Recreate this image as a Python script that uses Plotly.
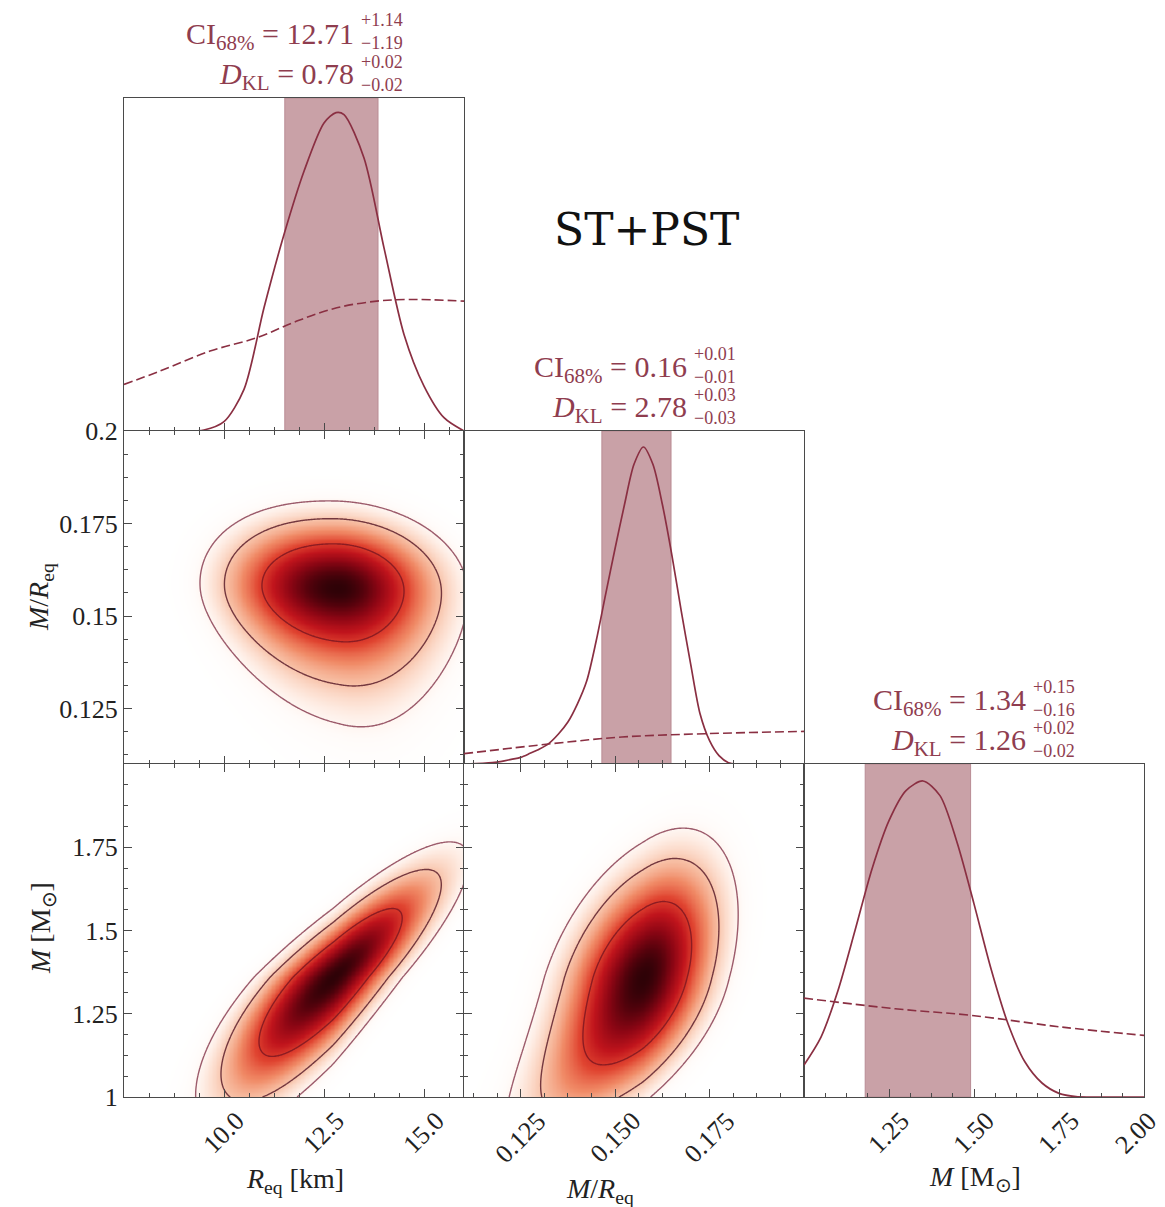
import numpy as np
import plotly.graph_objects as go

W, H = 1165, 1207

# ---------------------------------------------------------------- data
# axis ranges
R_RANGE = [7.5, 16.0]      # R_eq [km]
C_RANGE = [0.11, 0.20]     # M / R_eq
M_RANGE = [1.0, 2.0]       # M [M_sun]

# 1D posterior marginals (solid) and priors (dashed), peak-relative units
r_post_x = [9.0, 9.5, 10.0, 10.5, 11.0, 11.5, 12.0, 12.5, 12.8, 13.0, 13.5,
            14.0, 14.5, 15.0, 15.5, 16.0]
r_post_y = [0.0, 0.003, 0.028, 0.125, 0.37, 0.59, 0.78, 0.925, 0.956, 0.95, 0.82,
            0.55, 0.29, 0.135, 0.04, 0.0]
r_prior_x = [7.5, 8.4, 9.65, 10.82, 11.82, 12.82, 13.82, 14.65, 16.0]
r_prior_y = [0.14, 0.18, 0.24, 0.28, 0.33, 0.37, 0.39, 0.395, 0.39]

c_post_x = [0.11, 0.115, 0.1175, 0.12, 0.1225, 0.125, 0.1275, 0.13, 0.1325, 0.135,
            0.1375, 0.14, 0.1425, 0.145, 0.1475, 0.15, 0.1525, 0.155, 0.1575,
            0.16, 0.1625, 0.165, 0.1675, 0.17, 0.1725, 0.175, 0.1775, 0.18,
            0.1825, 0.2]
c_post_y = [0.0, 0.002, 0.004, 0.008, 0.014, 0.02, 0.032, 0.045, 0.062, 0.09,
            0.126, 0.18, 0.25, 0.37, 0.51, 0.648, 0.78, 0.9, 0.952,
            0.9, 0.78, 0.629, 0.46, 0.3, 0.15, 0.07, 0.025, 0.004,
            0.0, 0.0]
c_prior_x = [0.11, 0.1332, 0.1518, 0.1738, 0.20]
c_prior_y = [0.031, 0.061, 0.081, 0.091, 0.098]

m_post_x = [1.0, 1.05, 1.1, 1.15, 1.2, 1.25, 1.3, 1.35, 1.4, 1.45, 1.5, 1.55,
            1.6, 1.65, 1.7, 1.75, 1.8, 1.85, 2.0]
m_post_y = [0.096, 0.18, 0.32, 0.50, 0.685, 0.83, 0.92, 0.949, 0.905, 0.765, 0.58,
            0.385, 0.22, 0.105, 0.042, 0.011, 0.001, 0.0, 0.0]
m_prior_x = [1.0, 1.268, 1.493, 1.758, 2.0]
m_prior_y = [0.297, 0.265, 0.245, 0.21, 0.185]

# credible intervals (median, +err, -err) and KL divergences
ci_r = [12.71, 1.14, 1.19]
ci_c = [0.1557, 0.0091, 0.0092]
ci_m = [1.34, 0.15, 0.16]
dkl_r = [0.78, 0.02, 0.02]
dkl_c = [2.78, 0.03, 0.03]
dkl_m = [1.26, 0.02, 0.02]

# 2D posterior shapes:
#   peak, widths (x_lo, x_hi, y_lo, y_hi), tails (x_lo, x_hi, y_lo, y_hi), (rho, bend)
rc_peak = [12.85, 0.1575]
rc_width = [1.387, 1.10, 0.00775, 0.0080]
rc_tail = [-0.063, 0.0, 0.132, 0.0]
rc_shape = [-0.06, 0.04]

rm_peak = [12.73, 1.359]
rm_width = [1.32, 1.15, 0.158, 0.138]
rm_tail = [0.0, 0.0, 0.0, 0.0]
rm_shape = [0.86, 0.06]

cm_peak = [0.1575, 1.359]
cm_width = [0.0098, 0.0085, 0.175, 0.152]
cm_tail = [0.0, 0.0, 0.0, 0.0]
cm_shape = [0.42, -0.2]

# contour radii (in units of the local width)
contour_radii = [1.5, 2.35, 2.95]

# tick values
r_ticks = [10.0, 12.5, 15.0]
c_ticks = [0.125, 0.150, 0.175]
m_ticks = [1.25, 1.50, 1.75, 2.00]
c_yticks = [0.125, 0.15, 0.175, 0.2]
c_ytext = ["0.125", "0.15", "0.175", "0.2"]
m_yticks = [1.0, 1.25, 1.5, 1.75]
m_ytext = ["1", "1.25", "1.5", "1.75"]

# ---------------------------------------------------------------- style
LINE = "#8a2f42"
TEXT_RED = "#8f3d4f"
BAND = "#c9a1a7"
AX = "#4a4a4a"
SERIF = "Liberation Serif"
CONTOUR_COLORS = ["#8c1c22", "#74383f", "#9c5b6b"]
HEAT = [[0.0, "#ffffff"], [0.008, "#fffbf9"], [0.03, "#fde3d6"], [0.07, "#f7bea3"],
        [0.15, "#f08a66"], [0.28, "#e04430"], [0.45, "#c0141c"], [0.65, "#8e0614"],
        [0.85, "#56020c"], [1.0, "#2e0207"]]

COL_EDGES = [124, 464, 804, 1144]
ROW_EDGES = [98, 431, 764, 1097]


def xdom(c):
    return [COL_EDGES[c] / W, COL_EDGES[c + 1] / W]


def ydom(r):
    return [1 - ROW_EDGES[r + 1] / H, 1 - ROW_EDGES[r] / H]


def px(xp):
    return xp / W


def py(yp):
    return 1 - yp / H


def scaled(d, w_lo, w_hi, t_lo, t_hi):
    neg = d < 0
    w = np.where(neg, w_lo, w_hi)
    t = np.where(neg, t_lo, t_hi)
    return d / (w + t * np.abs(d))


def density(xr, yr, peak, width, tail, shape, n=260):
    xg = np.linspace(xr[0], xr[1], n)
    yg = np.linspace(yr[0], yr[1], n)
    X, Y = np.meshgrid(xg, yg)
    u = scaled(X - peak[0], width[0], width[1], tail[0], tail[1])
    v = scaled(Y - peak[1], width[2], width[3], tail[2], tail[3])
    rho, bend = shape
    u = u - bend * np.minimum(v, 0.0) ** 2
    q = (u * u - 2 * rho * u * v + v * v) / (1 - rho * rho)
    return xg, yg, np.exp(-0.5 * q)


fig = go.Figure()


def add_2d(xa, ya, xr, yr, peak, width, tail, shape):
    xg, yg, Z = density(xr, yr, peak, width, tail, shape)
    fig.add_trace(go.Heatmap(x=xg, y=yg, z=Z, colorscale=HEAT, zmin=0, zmax=1,
                             zsmooth="best", showscale=False, hoverinfo="skip",
                             xaxis=xa, yaxis=ya))
    for rad, col in zip(contour_radii, CONTOUR_COLORS):
        lvl = float(np.exp(-0.5 * rad * rad))
        fig.add_trace(go.Contour(x=xg, y=yg, z=Z, autocontour=False,
                                 contours=dict(start=lvl, end=lvl, size=1.0,
                                               coloring="none"),
                                 line=dict(color=col, width=1.4, smoothing=1.0),
                                 showscale=False, hoverinfo="skip",
                                 xaxis=xa, yaxis=ya))


def add_1d(xa, ya, post_x, post_y, prior_x, prior_y, ci):
    fig.add_shape(type="rect", xref=xa, yref=ya + " domain",
                  x0=ci[0] - ci[2], x1=ci[0] + ci[1], y0=0, y1=1,
                  fillcolor=BAND, line=dict(color="#b98c94", width=1), layer="below")
    fig.add_trace(go.Scatter(x=prior_x, y=prior_y, mode="lines",
                             line=dict(color=LINE, width=1.6, dash="9px,4px", shape="spline"),
                             xaxis=xa, yaxis=ya, hoverinfo="skip"))
    fig.add_trace(go.Scatter(x=post_x, y=post_y, mode="lines",
                             line=dict(color=LINE, width=1.7, shape="spline", smoothing=0.8),
                             xaxis=xa, yaxis=ya, hoverinfo="skip"))


# panels: 1 R(1D), 2 R-C, 3 R-M, 4 C(1D), 5 C-M, 6 M(1D)
add_1d("x", "y", r_post_x, r_post_y, r_prior_x, r_prior_y, ci_r)
add_2d("x2", "y2", R_RANGE, C_RANGE, rc_peak, rc_width, rc_tail, rc_shape)
add_2d("x3", "y3", R_RANGE, M_RANGE, rm_peak, rm_width, rm_tail, rm_shape)
add_1d("x4", "y4", c_post_x, c_post_y, c_prior_x, c_prior_y, ci_c)
add_2d("x5", "y5", C_RANGE, M_RANGE, cm_peak, cm_width, cm_tail, cm_shape)
add_1d("x6", "y6", m_post_x, m_post_y, m_prior_x, m_prior_y, ci_m)


def base_axis(rng, dom, anchor, mirror):
    return dict(range=rng, domain=dom, anchor=anchor, showline=True, linecolor=AX,
                linewidth=1.2, mirror=mirror, showgrid=False, zeroline=False,
                ticks="inside", ticklen=8, tickwidth=1.1, tickcolor=AX,
                showticklabels=False, fixedrange=True, automargin=False)


def minor(step):
    return dict(ticks="inside", ticklen=4, tickwidth=1, tickcolor=AX,
                tickmode="linear", tick0=0, dtick=step, showgrid=False)


R_MINOR, C_MINOR, M_MINOR = 0.625, 0.00625, 0.0625
R_MAJOR = [7.5, 10.0, 12.5, 15.0]
C_MAJOR = [0.125, 0.15, 0.175, 0.2]
M_MAJOR = [1.0, 1.25, 1.5, 1.75, 2.0]


def x_axis(rng, c, r, anchor, major, mstep, allticks):
    d = base_axis(rng, xdom(c), anchor, "allticks" if allticks else True)
    d.update(tickmode="array", tickvals=major, minor=minor(mstep))
    return d


def y_axis_1d(r, c, anchor):
    d = base_axis([0, 1.0], ydom(r), anchor, True)
    d.update(ticks="")
    return d


def y_axis_2d(rng, r, c, anchor, major, mstep, text=None):
    d = base_axis(rng, ydom(r), anchor, "allticks")
    d.update(tickmode="array", tickvals=major, minor=minor(mstep))
    if text is not None:
        d.update(showticklabels=True, ticktext=text,
                 tickfont=dict(family=SERIF, size=26, color="#222222"))
    return d


layout = dict(
    width=W, height=H, autosize=False,
    margin=dict(l=0, r=0, t=0, b=0, pad=0, autoexpand=False),
    paper_bgcolor="white", plot_bgcolor="white", showlegend=False,
    xaxis=x_axis(R_RANGE, 0, 0, "y", R_MAJOR, R_MINOR, False),
    yaxis=y_axis_1d(0, 0, "x"),
    xaxis2=x_axis(R_RANGE, 0, 1, "y2", R_MAJOR, R_MINOR, True),
    yaxis2=y_axis_2d(C_RANGE, 1, 0, "x2", c_yticks, C_MINOR, c_ytext),
    xaxis3=x_axis(R_RANGE, 0, 2, "y3", R_MAJOR, R_MINOR, True),
    yaxis3=y_axis_2d(M_RANGE, 2, 0, "x3", m_yticks, M_MINOR, m_ytext),
    xaxis4=x_axis(C_RANGE, 1, 1, "y4", C_MAJOR, C_MINOR, False),
    yaxis4=y_axis_1d(1, 1, "x4"),
    xaxis5=x_axis(C_RANGE, 1, 2, "y5", C_MAJOR, C_MINOR, True),
    yaxis5=y_axis_2d(M_RANGE, 2, 1, "x5", M_MAJOR, M_MINOR),
    xaxis6=x_axis(M_RANGE, 2, 2, "y6", M_MAJOR, M_MINOR, False),
    yaxis6=y_axis_1d(2, 2, "x6"),
)
fig.update_layout(**layout)

ann = []

# rotated tick labels under the bottom row
TICK_SIZE = 26
for xa, rng, c, vals, fmt in (("x3", R_RANGE, 0, r_ticks, "{:.1f}"),
                              ("x5", C_RANGE, 1, c_ticks, "{:.3f}"),
                              ("x6", M_RANGE, 2, m_ticks, "{:.2f}")):
    for v in vals:
        t = fmt.format(v)
        w_txt = TICK_SIZE * (0.5 * (len(t) - 1) + 0.25)
        half = 0.3536 * (w_txt + 1.15 * TICK_SIZE)
        yc = ROW_EDGES[3] + 9 + half
        xc = COL_EDGES[c] + (v - rng[0]) / (rng[1] - rng[0]) * (COL_EDGES[c + 1] - COL_EDGES[c])
        shift = min(0.0, (W - 2) - (xc + half))
        ann.append(dict(x=v, xref=xa, y=py(yc), yref="paper", text=t, textangle=-45,
                        showarrow=False, xanchor="center", yanchor="middle", xshift=shift,
                        font=dict(family=SERIF, size=TICK_SIZE, color="#222222")))


# CI / KL headers above the diagonal panels
def fmt2(v):
    return "{:.2f}".format(v)


def header(col, ci, dkl, split_off):
    top = ROW_EDGES[col]
    xs = (COL_EDGES[col] + COL_EDGES[col + 1]) / 2 + split_off
    lines = [("CI<sub>68%</sub> = " + fmt2(ci[0]), ci, top - 62, top - 66),
             ("<i>D</i><sub>KL</sub> = " + fmt2(dkl[0]), dkl, top - 22, top - 25)]
    for main, vals, yc, ys in lines:
        ann.append(dict(x=px(xs - 1), y=py(yc), xref="paper", yref="paper", text=main,
                        showarrow=False, xanchor="right", yanchor="middle",
                        font=dict(family=SERIF, size=30, color=TEXT_RED)))
        ann.append(dict(x=px(xs + 2), y=py(ys), xref="paper", yref="paper",
                        text="+" + fmt2(vals[1]) + "<br>\u2212" + fmt2(vals[2]),
                        showarrow=False, xanchor="left", yanchor="middle", align="left",
                        font=dict(family=SERIF, size=18, color=TEXT_RED)))


header(0, ci_r, dkl_r, 63)
header(1, ci_c, dkl_c, 56)
header(2, ci_m, dkl_m, 55)

# axis titles
TITLE_FONT = dict(family=SERIF, size=28, color="#222222")
ann += [
    dict(x=px(40), y=py(597), text="<i>M</i>/<i>R</i><sub>eq</sub>", textangle=-90),
    dict(x=px(42), y=py(928), text="<i>M</i> [M<sub>\u2299</sub>]", textangle=-90),
    dict(x=px(295), y=py(1180), text="<i>R</i><sub>eq</sub> [km]"),
    dict(x=px(600), y=py(1190), text="<i>M</i>/<i>R</i><sub>eq</sub>"),
    dict(x=px(975), y=py(1178), text="<i>M</i> [M<sub>\u2299</sub>]"),
]
for a in ann[-5:]:
    a.update(xref="paper", yref="paper", showarrow=False, xanchor="center",
             yanchor="middle", font=TITLE_FONT)

ann.append(dict(x=px(646), y=py(229), xref="paper", yref="paper", text="ST+PST",
                showarrow=False, xanchor="center", yanchor="middle",
                font=dict(family="DejaVu Serif", size=44, color="#111111")))

fig.update_layout(annotations=ann)
fig.write_html("out.html")
